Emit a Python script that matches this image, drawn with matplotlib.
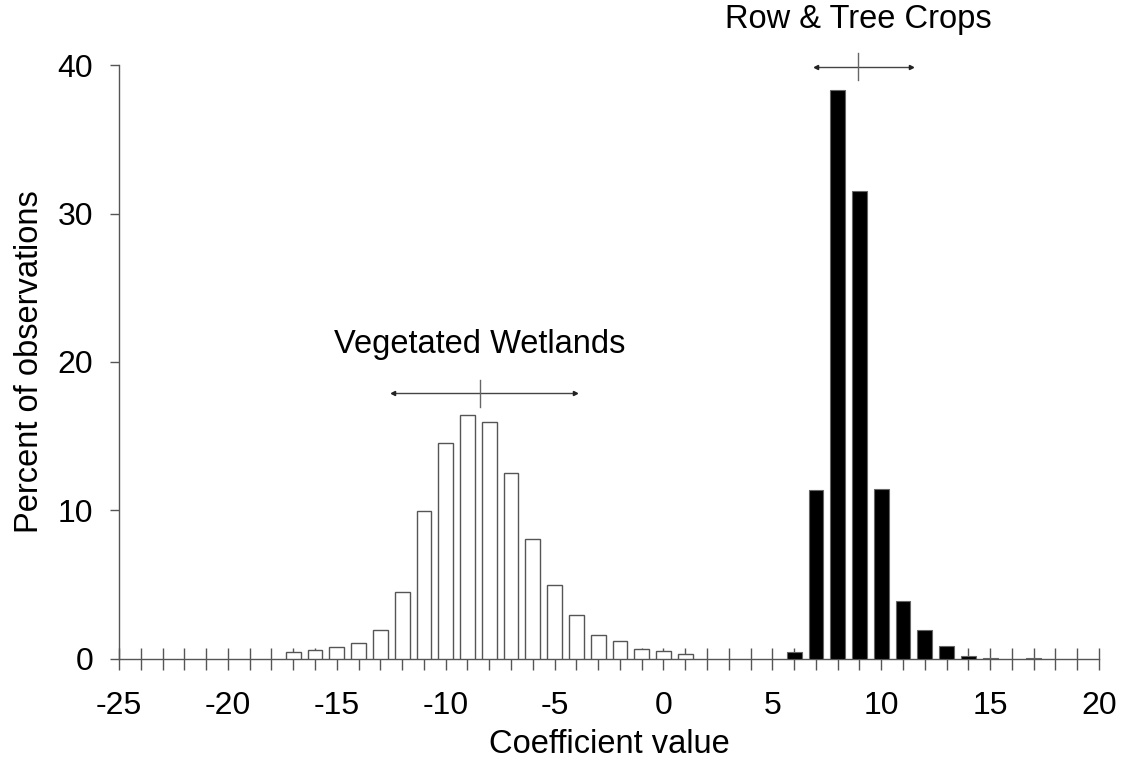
import matplotlib
matplotlib.use("Agg")
import matplotlib.pyplot as plt
import numpy as np

plt.rcParams['font.family'] = ['Liberation Sans', 'DejaVu Sans']

# White bars: Vegetated Wetlands
wet_x = [-17, -16, -15, -14, -13, -12, -11, -10, -9, -8, -7, -6, -5, -4, -3, -2, -1, 0, 1]
wet_y = [0.47, 0.61, 0.83, 1.05, 1.98, 4.51, 9.97, 14.55, 16.43, 15.94, 12.5, 8.08, 4.96, 2.96, 1.62, 1.21, 0.65, 0.54, 0.31]

# Black bars: Row & Tree Crops
crop_x = [6, 7, 8, 9, 10, 11, 12, 13, 14, 15, 17]
crop_y = [0.49, 11.37, 38.3, 31.53, 11.45, 3.92, 1.95, 0.87, 0.22, 0.07, 0.04]

# Mean and range markers
wet_mean, wet_lo, wet_hi, wet_level = -8.44, -12.43, -4.08, 17.9
crop_mean, crop_lo, crop_hi, crop_level = 8.94, 7.02, 11.38, 39.9

x_ticks = [-25, -20, -15, -10, -5, 0, 5, 10, 15, 20]
x_tick_labels = ['-25', '-20', '-15', '-10', '-5', '0', '5', '10', '15', '20']
y_ticks = [0, 10, 20, 30, 40]
y_tick_labels = ['0', '10', '20', '30', '40']

fig = plt.figure(figsize=(11.27, 7.65), dpi=100)
ax = fig.add_axes([0.1056, 0.1386, 0.8696, 0.7764])

ax.bar(wet_x, wet_y, width=0.68, color='white', edgecolor='#555555', linewidth=1.0, zorder=3)
ax.bar(crop_x, crop_y, width=0.68, color='black', edgecolor='#666666', linewidth=0.8, zorder=3)

for mean, lo, hi, lvl in [(wet_mean, wet_lo, wet_hi, wet_level),
                          (crop_mean, crop_lo, crop_hi, crop_level)]:
    ax.plot([lo, hi], [lvl, lvl], color='#444444', lw=1.0, clip_on=False, zorder=4)
    ax.plot([lo], [lvl], marker='<', ms=3, color='#222222', clip_on=False, zorder=4)
    ax.plot([hi], [lvl], marker='>', ms=3, color='#222222', clip_on=False, zorder=4)
    ax.plot([mean, mean], [lvl - 0.9, lvl + 0.9], color='#666666', lw=1.0, clip_on=False, zorder=4)

ax.text(wet_mean, 21.2, 'Vegetated Wetlands', ha='center', va='center', fontsize=23.5)
ax.text(crop_mean, 43.05, 'Row & Tree Crops', ha='center', va='center', fontsize=23.5)

ax.set_xlim(-25, 20)
ax.set_ylim(0, 40)
ax.set_xticks(x_ticks)
ax.set_xticklabels(x_tick_labels)
ax.set_xticks(np.arange(-25, 21, 1), minor=True)
ax.set_yticks(y_ticks)
ax.set_yticklabels(y_tick_labels)

for s in ['top', 'right']:
    ax.spines[s].set_visible(False)
for s in ['left', 'bottom']:
    ax.spines[s].set_color('#555555')
    ax.spines[s].set_linewidth(1.0)

ax.tick_params(axis='x', which='both', direction='inout', length=16, width=1.0, color='#555555',
               labelsize=23, pad=15)
ax.tick_params(axis='y', which='major', direction='out', length=6.5, width=1.0, color='#555555',
               labelsize=23, pad=12)

ax.set_xlabel('Coefficient value', fontsize=23.5, labelpad=6)
ax.set_ylabel('Percent of observations', fontsize=23.5, labelpad=9)

fig.savefig('out.png', dpi=100, facecolor='white')
